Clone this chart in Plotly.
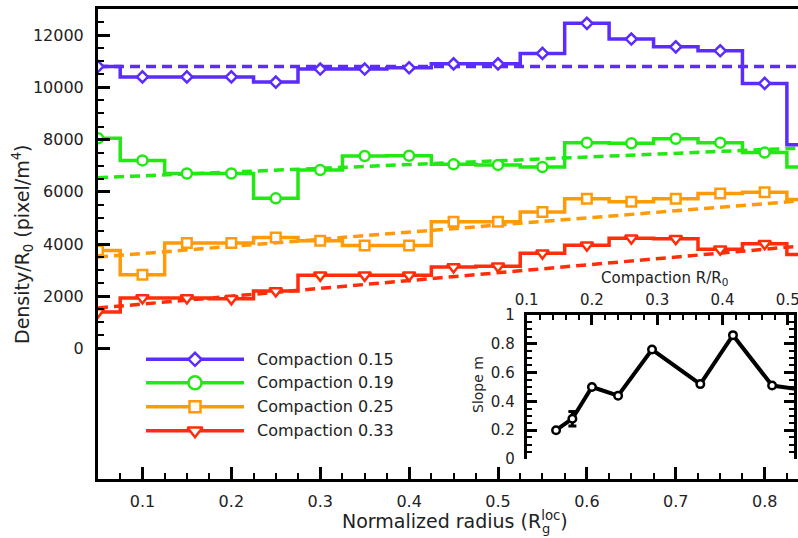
import plotly.graph_objects as go

# ---------------- data ----------------
radius = [0.05, 0.10, 0.15, 0.20, 0.25, 0.30, 0.35, 0.40, 0.45, 0.50, 0.55, 0.60, 0.65, 0.70, 0.75, 0.80, 0.85]
dens_015 = [10800, 10400, 10400, 10400, 10200, 10700, 10700, 10750, 10900, 10900, 11300, 12450, 11850, 11550, 11400, 10150, 7800]
dens_019 = [8050, 7200, 6700, 6700, 5750, 6830, 7370, 7380, 7050, 7030, 6950, 7880, 7860, 8030, 7880, 7500, 6950]
dens_025 = [3750, 2820, 4040, 4040, 4250, 4120, 3940, 3940, 4850, 4850, 5230, 5730, 5615, 5730, 5930, 5980, 5700]
dens_033 = [1400, 1930, 1930, 1900, 2200, 2800, 2800, 2800, 3120, 3150, 3650, 3950, 4220, 4200, 3800, 4010, 3600]

fit_radius = [0.05, 0.25, 0.45, 0.65, 0.85]
fit_015 = [10800, 10800, 10800, 10800, 10800]
fit_019 = [6540, 6830, 7140, 7420, 7690]
fit_025 = [3500, 4040, 4600, 5150, 5680]
fit_033 = [1550, 2150, 2750, 3350, 3950]

series_labels = ["Compaction 0.15", "Compaction 0.19", "Compaction 0.25", "Compaction 0.33"]

compaction = [0.145, 0.170, 0.200, 0.240, 0.292, 0.366, 0.416, 0.476, 0.54]
slope = [0.20, 0.28, 0.50, 0.44, 0.76, 0.52, 0.86, 0.51, 0.47]
slope_err = [0, 0.05, 0, 0, 0, 0, 0, 0, 0]

x_tickvals = [0.1, 0.2, 0.3, 0.4, 0.5, 0.6, 0.7, 0.8]
x_ticktext = ["0.1", "0.2", "0.3", "0.4", "0.5", "0.6", "0.7", "0.8"]
y_tickvals = [0, 2000, 4000, 6000, 8000, 10000, 12000]
y_ticktext = ["0", "2000", "4000", "6000", "8000", "10000", "12000"]
inset_x_tickvals = [0.1, 0.2, 0.3, 0.4, 0.5]
inset_x_ticktext = ["0.1", "0.2", "0.3", "0.4", "0.5"]
inset_y_tickvals = [0, 0.2, 0.4, 0.6, 0.8, 1.0]
inset_y_ticktext = ["0", "0.2", "0.4", "0.6", "0.8", "1"]

# ---------------- styles ----------------
FONT = "DejaVu Sans"
TXT = "#222222"
colors = ["#5b2cfb", "#22e813", "#ff9a0a", "#ff2d0a"]
symbols = ["diamond", "circle", "square", "triangle-down"]
plot_sizes = [8.5, 10, 9.5, 11]
legend_sizes = [10, 13, 11, 13]

dens = [dens_015, dens_019, dens_025, dens_033]
fits = [fit_015, fit_019, fit_025, fit_033]

W, H = 798, 538
ML, MR, MT, MB = 98, 0, 9, 59

def px2x(p):
    return (p - ML) / (W - ML - MR)

def px2y(p):
    return (H - MB - p) / (H - MT - MB)

fig = go.Figure()

# dashed fits
for c, f in zip(colors, fits):
    fig.add_trace(go.Scatter(x=fit_radius, y=f, mode="lines",
                             line=dict(color=c, width=3.5, dash="10px,6px"),
                             showlegend=False, hoverinfo="skip"))
# step curves
for c, s, sz, d in zip(colors, symbols, plot_sizes, dens):
    fig.add_trace(go.Scatter(x=radius, y=d, mode="lines+markers",
                             line=dict(color=c, width=3.5, shape="hvh"),
                             marker=dict(symbol=s, size=sz, color="white",
                                         line=dict(color=c, width=2.5)),
                             showlegend=False))

# custom legend (pixel axis x4/y4)
leg_rows = [359.3, 382.7, 406.7, 430.7]
for c, s, sz, lab, ly in zip(colors, symbols, legend_sizes, series_labels, leg_rows):
    fig.add_trace(go.Scatter(x=[146, 244], y=[ly, ly], mode="lines",
                             line=dict(color=c, width=3.5),
                             xaxis="x4", yaxis="y4", showlegend=False, hoverinfo="skip"))
    fig.add_trace(go.Scatter(x=[195], y=[ly], mode="markers",
                             marker=dict(symbol=s, size=sz, color="white",
                                         line=dict(color=c, width=2.5)),
                             xaxis="x4", yaxis="y4", showlegend=False, hoverinfo="skip"))
    fig.add_annotation(x=px2x(255), y=px2y(ly), xref="paper", yref="paper", text=lab,
                       showarrow=False, xanchor="left", yanchor="middle",
                       font=dict(family=FONT, size=16, color=TXT))

# inset
err_x = [x for x, e in zip(compaction, slope_err) if e > 0]
err_y = [y for y, e in zip(slope, slope_err) if e > 0]
err_v = [e for e in slope_err if e > 0]
fig.add_trace(go.Scatter(x=err_x, y=err_y, mode="markers", marker=dict(size=1, color="black"),
                         error_y=dict(type="data", array=err_v, visible=True,
                                      color="black", thickness=3, width=4),
                         xaxis="x2", yaxis="y2", showlegend=False))
fig.add_trace(go.Scatter(x=compaction, y=slope, mode="lines+markers",
                         line=dict(color="black", width=4),
                         marker=dict(symbol="circle", size=7.5, color="white",
                                     line=dict(color="black", width=2.5)),
                         xaxis="x2", yaxis="y2", showlegend=False))

inset_l, inset_r, inset_t, inset_b = 526.7, 794.3, 315, 459

axis_common = dict(showline=True, linecolor="black", linewidth=3, showgrid=False,
                   zeroline=False, ticks="inside", tickcolor="black", automargin=False)

fig.update_layout(
    width=W, height=H,
    margin=dict(l=ML, r=MR, t=MT, b=MB, pad=0, autoexpand=False),
    paper_bgcolor="white", plot_bgcolor="white",
    font=dict(family=FONT, color=TXT, size=16),
    showlegend=False,
    xaxis=dict(**axis_common, range=[0.05, 0.8375], mirror=True,
               tickvals=x_tickvals, ticktext=x_ticktext, ticklen=12, tickwidth=3,
               ticklabelstandoff=6, ticklabeloverflow="allow",
               tickfont=dict(family=FONT, size=16, color=TXT),
               minor=dict(tickvals=[0.075 + 0.025 * i for i in range(31)],
                          ticks="inside", ticklen=6, tickwidth=2, tickcolor="black",
                          showgrid=False)),
    yaxis=dict(**axis_common, range=[-5000, 13000],
               tickvals=y_tickvals, ticktext=y_ticktext, ticklen=12, tickwidth=3,
               ticklabelstandoff=8,
               tickfont=dict(family=FONT, size=16, color=TXT),
               minor=dict(tickvals=[500 * i for i in range(1, 27)],
                          ticks="inside", ticklen=6, tickwidth=2, tickcolor="black",
                          showgrid=False)),
    xaxis2=dict(**axis_common, domain=[px2x(inset_l), px2x(inset_r)], anchor="y2",
                side="top", range=[0.1, 0.51],
                tickvals=inset_x_tickvals, ticktext=inset_x_ticktext,
                ticklen=10, tickwidth=3, ticklabelstandoff=1, ticklabeloverflow="allow",
                tickfont=dict(family=FONT, size=15, color=TXT),
                minor=dict(tickvals=[0.12 + 0.02 * i for i in range(20)],
                           ticks="inside", ticklen=5, tickwidth=2, tickcolor="black",
                           showgrid=False)),
    xaxis3=dict(**axis_common, overlaying="x2", anchor="y2", side="bottom",
                range=[-0.586, 4.955], tickvals=[0, 1, 2, 3, 4],
                showticklabels=False, ticklen=10, tickwidth=3,
                minor=dict(tickvals=[-0.5 + 0.25 * i for i in range(23)],
                           ticks="inside", ticklen=5, tickwidth=2, tickcolor="black",
                           showgrid=False)),
    yaxis2=dict(**axis_common, domain=[px2y(inset_b), px2y(inset_t)], anchor="x2",
                range=[0, 1], mirror="ticks",
                tickvals=inset_y_tickvals, ticktext=inset_y_ticktext,
                ticklen=10, tickwidth=3, ticklabelstandoff=6,
                tickfont=dict(family=FONT, size=15, color=TXT),
                minor=dict(tickvals=[0.05 * i for i in range(1, 20)],
                           ticks="inside", ticklen=5, tickwidth=2, tickcolor="black",
                           showgrid=False)),
    xaxis4=dict(overlaying="x", anchor="y4", range=[ML, W - MR], visible=False,
                automargin=False),
    yaxis4=dict(overlaying="y", anchor="x4", range=[H - MB, MT], visible=False,
                automargin=False),
)

# titles (paper coordinates)
fig.add_annotation(x=px2x(22), y=px2y(244), xref="paper", yref="paper",
                   text="Density/R<sub>0</sub> (pixel/m<sup>4</sup>)",
                   textangle=-90, showarrow=False, xanchor="center", yanchor="middle",
                   font=dict(family=FONT, size=19, color=TXT))
# x title with stacked sub/superscript on R
fig.add_annotation(x=px2x(340), y=px2y(520), xref="paper", yref="paper",
                   text="Normalized radius (R<sup>loc</sup>)",
                   showarrow=False, xanchor="left", yanchor="middle",
                   font=dict(family=FONT, size=19, color=TXT))
fig.add_annotation(x=px2x(540), y=px2y(528.5), xref="paper", yref="paper",
                   text="g",
                   showarrow=False, xanchor="left", yanchor="middle",
                   font=dict(family=FONT, size=13, color=TXT))
fig.add_annotation(x=px2x(664), y=px2y(278), xref="paper", yref="paper",
                   text="Compaction R/R<sub>0</sub>",
                   showarrow=False, xanchor="center", yanchor="middle",
                   font=dict(family=FONT, size=15, color=TXT))
fig.add_annotation(x=px2x(478), y=px2y(384), xref="paper", yref="paper",
                   text="Slope m", textangle=-90,
                   showarrow=False, xanchor="center", yanchor="middle",
                   font=dict(family=FONT, size=14, color=TXT))

fig.write_html("out.html", config={"displayModeBar": False},
               post_script="document.body.style.margin='0px';document.body.style.overflow='hidden';")
